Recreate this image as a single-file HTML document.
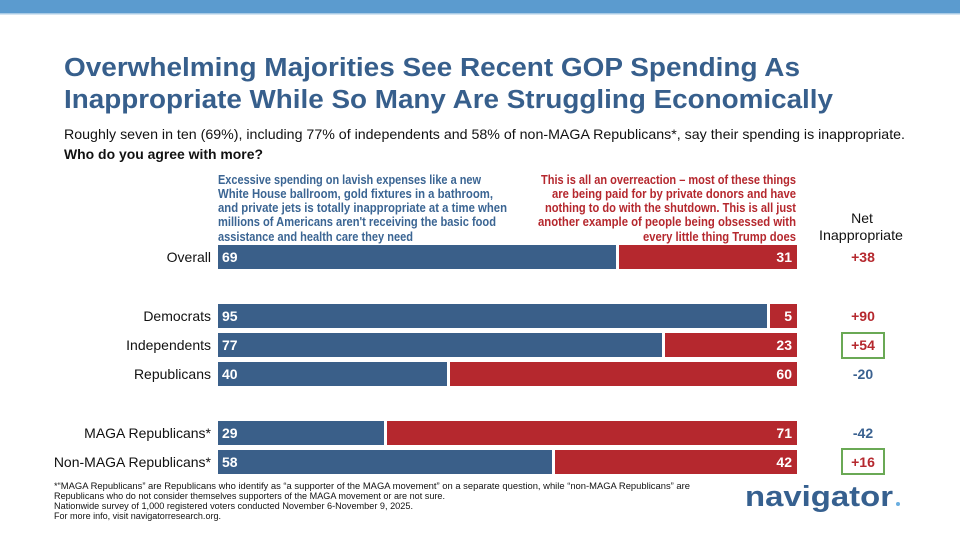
<!DOCTYPE html>
<html><head><meta charset="utf-8"><style>
html,body{margin:0;padding:0;background:#fff;}
svg{display:block;}
text{font-family:"Liberation Sans",sans-serif;}
</style></head><body>
<svg width="960" height="540" viewBox="0 0 960 540" xmlns="http://www.w3.org/2000/svg">
<rect x="0" y="0" width="960" height="14" fill="#5b9bcf"/>
<rect x="0" y="13" width="960" height="1.5" fill="#a9cbe6"/>

<!-- Title -->
<text x="64" y="76" font-size="25.5" font-weight="bold" fill="#375f8c" textLength="736" lengthAdjust="spacingAndGlyphs">Overwhelming Majorities See Recent GOP Spending As</text>
<text x="64" y="108" font-size="25.5" font-weight="bold" fill="#375f8c" textLength="769" lengthAdjust="spacingAndGlyphs">Inappropriate While So Many Are Struggling Economically</text>
<text x="64" y="139" font-size="14" fill="#111" textLength="841" lengthAdjust="spacingAndGlyphs">Roughly seven in ten (69%), including 77% of independents and 58% of non-MAGA Republicans*, say their spending is inappropriate.</text>
<text x="64" y="159" font-size="13.5" font-weight="bold" fill="#111" textLength="199" lengthAdjust="spacingAndGlyphs">Who do you agree with more?</text>

<!-- Blue statement -->
<g font-size="12.5" font-weight="bold" fill="#3b6593">
<text x="218" y="184" textLength="263" lengthAdjust="spacingAndGlyphs">Excessive spending on lavish expenses like a new</text>
<text x="218" y="198" textLength="275" lengthAdjust="spacingAndGlyphs">White House ballroom, gold fixtures in a bathroom,</text>
<text x="218" y="212" textLength="289" lengthAdjust="spacingAndGlyphs">and private jets is totally inappropriate at a time when</text>
<text x="218" y="226" textLength="278" lengthAdjust="spacingAndGlyphs">millions of Americans aren't receiving the basic food</text>
<text x="218" y="241" textLength="195" lengthAdjust="spacingAndGlyphs">assistance and health care they need</text>
</g>
<!-- Red statement -->
<g font-size="12.5" font-weight="bold" fill="#b5282e">
<text x="541" y="184" textLength="255" lengthAdjust="spacingAndGlyphs">This is all an overreaction – most of these things</text>
<text x="552" y="198" textLength="244" lengthAdjust="spacingAndGlyphs">are being paid for by private donors and have</text>
<text x="545" y="212" textLength="251" lengthAdjust="spacingAndGlyphs">nothing to do with the shutdown. This is all just</text>
<text x="538" y="226" textLength="258" lengthAdjust="spacingAndGlyphs">another example of people being obsessed with</text>
<text x="643" y="241" textLength="153" lengthAdjust="spacingAndGlyphs">every little thing Trump does</text>
</g>

<!-- Net header -->
<text x="862" y="223" font-size="14" fill="#111" text-anchor="middle">Net</text>
<text x="861" y="240" font-size="14" fill="#111" text-anchor="middle" textLength="84" lengthAdjust="spacingAndGlyphs">Inappropriate</text>

<!-- Bars -->
<g>
<rect x="218" y="245" width="398" height="24" fill="#3a5f89"/>
<rect x="619" y="245" width="178" height="24" fill="#b5282e"/>
<rect x="218" y="304" width="549" height="24" fill="#3a5f89"/>
<rect x="770" y="304" width="27" height="24" fill="#b5282e"/>
<rect x="218" y="333" width="444" height="24" fill="#3a5f89"/>
<rect x="665" y="333" width="132" height="24" fill="#b5282e"/>
<rect x="218" y="362" width="229" height="24" fill="#3a5f89"/>
<rect x="450" y="362" width="347" height="24" fill="#b5282e"/>
<rect x="218" y="421" width="166" height="24" fill="#3a5f89"/>
<rect x="387" y="421" width="410" height="24" fill="#b5282e"/>
<rect x="218" y="450" width="334" height="24" fill="#3a5f89"/>
<rect x="555" y="450" width="242" height="24" fill="#b5282e"/>
</g>

<!-- Category labels -->
<g font-size="14" fill="#111" text-anchor="end">
<text x="211" y="262">Overall</text>
<text x="211" y="321">Democrats</text>
<text x="211" y="350">Independents</text>
<text x="211" y="379">Republicans</text>
<text x="211" y="438">MAGA Republicans*</text>
<text x="211" y="467">Non-MAGA Republicans*</text>
</g>

<!-- Values in bars -->
<g font-size="14" font-weight="bold" fill="#fff">
<text x="222" y="262">69</text>
<text x="222" y="321">95</text>
<text x="222" y="350">77</text>
<text x="222" y="379">40</text>
<text x="222" y="438">29</text>
<text x="222" y="467">58</text>
</g>
<g font-size="14" font-weight="bold" fill="#fff" text-anchor="end">
<text x="792" y="262">31</text>
<text x="792" y="321">5</text>
<text x="792" y="350">23</text>
<text x="792" y="379">60</text>
<text x="792" y="438">71</text>
<text x="792" y="467">42</text>
</g>

<!-- Net values -->
<rect x="842" y="333" width="42" height="25" fill="none" stroke="#6aa955" stroke-width="2"/>
<rect x="842" y="449" width="42" height="25" fill="none" stroke="#6aa955" stroke-width="2"/>
<g font-size="14" font-weight="bold" text-anchor="middle">
<text x="863" y="262" fill="#b5282e">+38</text>
<text x="863" y="321" fill="#b5282e">+90</text>
<text x="863" y="350" fill="#b5282e">+54</text>
<text x="863" y="379" fill="#3a6190">-20</text>
<text x="863" y="438" fill="#3a6190">-42</text>
<text x="863" y="467" fill="#b5282e">+16</text>
</g>

<!-- Footer -->
<g font-size="9" fill="#111">
<text x="54" y="489" textLength="636" lengthAdjust="spacingAndGlyphs">*“MAGA Republicans” are Republicans who identify as “a supporter of the MAGA movement” on a separate question, while “non-MAGA Republicans” are</text>
<text x="54" y="499" textLength="391" lengthAdjust="spacingAndGlyphs">Republicans who do not consider themselves supporters of the MAGA movement or are not sure.</text>
<text x="54" y="509" textLength="359" lengthAdjust="spacingAndGlyphs">Nationwide survey of 1,000 registered voters conducted November 6-November 9, 2025.</text>
<text x="54" y="519" textLength="167" lengthAdjust="spacingAndGlyphs">For more info, visit navigatorresearch.org.</text>
</g>

<!-- Logo -->
<text x="745" y="506" font-size="29" font-weight="bold" fill="#36608f" textLength="148" lengthAdjust="spacingAndGlyphs">navigator</text>
<circle cx="898" cy="504" r="2" fill="#6aaee0"/>
</svg>
</body></html>
